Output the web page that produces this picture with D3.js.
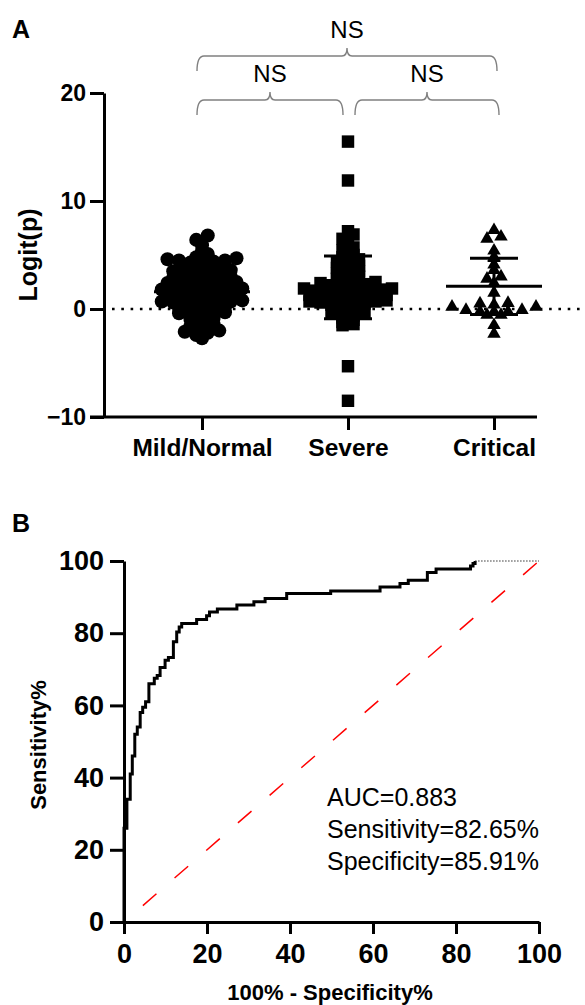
<!DOCTYPE html>
<meta charset="utf-8">
<style>
body {
  margin: 0;
  background: #fff;
}
text {
  font-family: 'Liberation Sans', Arial, sans-serif;
  fill: #000;
}
.axis path,
.axis line {
  stroke: #000;
  stroke-width: 3px;
  fill: none;
}
.axis text {
  font-weight: 700;
}
.title {
  font-weight: 700;
}
.bracket {
  fill: none;
  stroke: #808080;
  stroke-width: 1.4px;
}
</style>
<svg width="585" height="1005"></svg>
<script src="https://d3js.org/d3.v7.min.js"></script>
<script>
// ---- panel A data ----
var categories = ["Mild/Normal", "Severe", "Critical"];
var mildValues = [6.8, 6.4, 5.9, 5.4, 5.1, 4.8, 4.7, 4.6, 4.5, 4.5, 4.4, 4.3, 4.2, 4.0, 3.9, 3.8, 3.7,
  3.6, 3.5, 3.4, 3.3, 3.2, 3.1, 3.0, 2.9, 2.8, 2.7, 2.7, 2.6, 2.5, 2.4, 2.3, 2.2, 2.1, 2.0, 2.0, 1.9,
  1.8, 1.8, 1.7, 1.6, 1.5, 1.5, 1.4, 1.3, 1.2, 1.2, 1.1, 1.0, 1.0, 0.9, 0.8, 0.7, 0.7, 0.6, 0.5, 0.4,
  0.3, 0.3, 0.2, 0.1, 0.0, -0.1, -0.2, -0.3, -0.4, -0.5, -0.6, -0.7, -0.9, -1.0, -1.2, -1.4, -1.6,
  -1.8, -2.0, -2.1, -2.2, -2.4, -2.7];
var severeValues = [15.5, 11.9, 7.2, 6.9, 6.5, 6.1, 5.7, 5.4, 5.0, 4.8, 4.6, 4.4, 4.2, 4.0, 3.8, 3.7,
  3.5, 3.3, 3.1, 3.0, 2.8, 2.7, 2.5, 2.4, 2.3, 2.2, 2.1, 2.0, 1.9, 1.9, 1.8, 1.7, 1.7, 1.6, 1.5, 1.5,
  1.4, 1.3, 1.3, 1.2, 1.1, 1.1, 1.0, 0.9, 0.9, 0.8, 0.7, 0.7, 0.6, 0.5, 0.4, 0.4, 0.3, 0.2, 0.1, -0.1,
  -0.3, -0.4, -0.6, -0.8, -1.0, -1.2, -1.4, -1.5, -5.3, -8.5];
var criticalValues = [7.3, 6.7, 6.5, 5.4, 4.8, 4.7, 4.1, 3.6, 3.0, 2.8, 2.4, 1.5, 0.55, 0.5, 0.4, 0.2,
  0.2, -0.1, -0.1, -0.25, -0.25, -0.25, -0.55, -0.55, -1.5, -2.3];
var groupMeans = [1.6, 2.0, 2.1];
var groupSDs = [2.0, 2.9, 2.6];
var logitTicks = [-10, 0, 10, 20];
var comparisons = [[0, 2], [0, 1], [1, 2]];
var comparisonLabels = ["NS", "NS", "NS"];

// ---- panel B data ----
var rocFpr = [0, 0, 0.7, 1.5, 2.0, 2.6, 3.2, 3.9, 4.5, 5.2, 6.0, 7.3, 8.0, 8.7, 9.9, 10.7, 11.9, 12.7,
  13.3, 13.9, 17.5, 19.9, 20.6, 22.5, 27.2, 31.3, 34.0, 39.2, 49.8, 61.7, 66.5, 68.5, 73.1, 75.2, 83.5,
  84.1, 84.6];
var rocSens = [0, 26, 34, 41, 46, 52, 54, 58, 59.5, 61, 66, 67.5, 68.3, 70.5, 72.5, 73.3, 77.6, 80.3,
  81.7, 82.7, 83.8, 84.8, 85.9, 86.7, 87.8, 88.7, 89.6, 91.0, 91.7, 92.8, 93.8, 94.7, 96.8, 97.8, 98.6,
  99.3, 100];
var rocTicks = [0, 20, 40, 60, 80, 100];
var rocStats = ["AUC=0.883", "Sensitivity=82.65%", "Specificity=85.91%"];

var svg = d3.select("svg");

// =========== Panel A ===========
var yA = d3.scaleLinear().domain([-10, 20]).range([417, 93]);
var xA = d3.scalePoint().domain(categories).range([202, 494]);

svg.append("text").attr("class", "title").attr("x", 12).attr("y", 38)
  .style("font-size", "25px").text("A");

// zero reference line
svg.append("line")
  .attr("x1", 112).attr("x2", 580)
  .attr("y1", yA(0)).attr("y2", yA(0))
  .attr("stroke", "#000").attr("stroke-width", 2.6)
  .attr("stroke-dasharray", "2.6 6.7");

// scatter layout like prism: points binned into rows, each row spread around the centre
function spread(values, rowH, spacing) {
  var pts = values.map(function(v) { return {v: v, y: yA(v), dx: 0}; });
  var bins = d3.group(pts, function(p) { return Math.floor(p.y / rowH); });
  bins.forEach(function(row) {
    row.sort(function(a, b) { return a.v - b.v; });
    var n = row.length;
    var slots = d3.range(n).map(function(j) { return (j - (n - 1) / 2) * spacing; })
      .sort(function(a, b) { return Math.abs(a) - Math.abs(b) || a - b; });
    row.forEach(function(p, j) { p.dx = slots[j]; });
  });
  return pts;
}

var groups = [
  {values: mildValues, symbol: d3.symbolCircle, size: 155, rowH: 6, spacing: 11.5},
  {values: severeValues, symbol: d3.symbolSquare, size: 155, rowH: 6, spacing: 11},
  {values: criticalValues, symbol: d3.symbolTriangle, size: 78, rowH: 6, spacing: 14}
];

groups.forEach(function(gr, i) {
  var cx = xA(categories[i]);
  svg.append("g").selectAll("path")
    .data(spread(gr.values, gr.rowH, gr.spacing))
    .join("path")
    .attr("d", d3.symbol().type(gr.symbol).size(gr.size))
    .attr("transform", function(d) { return "translate(" + (cx + d.dx) + "," + d.y + ")"; })
    .attr("fill", "#000");

  // mean and SD
  var m = groupMeans[i], s = groupSDs[i];
  var g = svg.append("g").attr("stroke", "#000").attr("stroke-width", 3);
  g.append("line").attr("x1", cx - 48).attr("x2", cx + 48).attr("y1", yA(m)).attr("y2", yA(m));
  g.append("line").attr("x1", cx - 24).attr("x2", cx + 24).attr("y1", yA(m + s)).attr("y2", yA(m + s));
  g.append("line").attr("x1", cx - 24).attr("x2", cx + 24).attr("y1", yA(m - s)).attr("y2", yA(m - s));
  g.append("line").attr("x1", cx).attr("x2", cx).attr("y1", yA(m + s)).attr("y2", yA(m - s));
});

// axes
svg.append("g")
  .attr("class", "axis")
  .attr("transform", "translate(104,0)")
  .call(d3.axisLeft(yA).tickValues(logitTicks).tickSize(14).tickSizeOuter(0).tickPadding(4))
  .selectAll("text").style("font-size", "23px");

svg.append("line")
  .attr("x1", 90).attr("x2", 537).attr("y1", 417).attr("y2", 417)
  .attr("stroke", "#000").attr("stroke-width", 3);

var xAxisA = svg.append("g")
  .attr("class", "axis")
  .attr("transform", "translate(0,417)")
  .call(d3.axisBottom(xA).tickSize(13).tickSizeOuter(0).tickPadding(9));
xAxisA.select(".domain").remove();
xAxisA.selectAll("text").style("font-size", "24.5px");

svg.append("text").attr("class", "title")
  .attr("transform", "translate(37,255) rotate(-90)")
  .attr("text-anchor", "middle")
  .style("font-size", "25px")
  .text("Logit(p)");

// significance brackets
var bracketRows = [56, 100];
comparisons.forEach(function(c, i) {
  var y = i === 0 ? bracketRows[0] : bracketRows[1];
  var x1 = xA(categories[c[0]]) + (c[0] === 1 ? 7 : -5);
  var x2 = xA(categories[c[1]]) + (c[1] === 1 ? -5 : 5);
  if (i === 0) x2 = xA(categories[c[1]]) + 3;
  var mid = (x1 + x2) / 2;
  var path = d3.path();
  path.moveTo(x1, y + 15);
  path.quadraticCurveTo(x1, y, x1 + 7, y);
  path.lineTo(mid - 5, y);
  path.quadraticCurveTo(mid, y, mid, y - 8);
  path.quadraticCurveTo(mid, y, mid + 5, y);
  path.lineTo(x2 - 7, y);
  path.quadraticCurveTo(x2, y, x2, y + 15);
  svg.append("path").attr("class", "bracket").attr("d", path.toString());
  svg.append("text")
    .attr("x", mid).attr("y", y - 18)
    .attr("text-anchor", "middle")
    .style("font-size", "24px")
    .text(comparisonLabels[i]);
});

// =========== Panel B ===========
var xB = d3.scaleLinear().domain([0, 100]).range([124, 539]);
var yB = d3.scaleLinear().domain([0, 100]).range([922, 561]);

svg.append("text").attr("class", "title").attr("x", 12).attr("y", 532)
  .style("font-size", "25px").text("B");

// reference diagonal
svg.append("line")
  .attr("x1", xB(0)).attr("y1", yB(0))
  .attr("x2", xB(100)).attr("y2", yB(100))
  .attr("stroke", "#ff0000").attr("stroke-width", 1.5)
  .attr("stroke-dasharray", "18 24").attr("stroke-dashoffset", 17);

var roc = d3.zip(rocFpr, rocSens);
svg.append("path")
  .datum(roc)
  .attr("fill", "none")
  .attr("stroke", "#000")
  .attr("stroke-width", 3)
  .attr("d", d3.line().x(function(d) { return xB(d[0]); }).y(function(d) { return yB(d[1]); })
    .curve(d3.curveStepAfter));

// tail of the curve along the top
svg.append("line")
  .attr("x1", xB(rocFpr[rocFpr.length - 1])).attr("x2", xB(100))
  .attr("y1", yB(100)).attr("y2", yB(100))
  .attr("stroke", "#333").attr("stroke-width", 1.2)
  .attr("stroke-dasharray", "1.5 1.5");

svg.append("g")
  .attr("class", "axis")
  .attr("transform", "translate(124,0)")
  .call(d3.axisLeft(yB).tickValues(rocTicks).tickSize(14).tickSizeOuter(0).tickPadding(6))
  .selectAll("text").style("font-size", "27px");

svg.append("g")
  .attr("class", "axis")
  .attr("transform", "translate(0,922)")
  .call(d3.axisBottom(xB).tickValues(rocTicks).tickSize(12).tickSizeOuter(0).tickPadding(10))
  .selectAll("text").style("font-size", "27px");

svg.append("text").attr("class", "title")
  .attr("transform", "translate(46,745) rotate(-90)")
  .attr("text-anchor", "middle")
  .style("font-size", "22px")
  .text("Sensitivity%");

svg.append("text").attr("class", "title")
  .attr("x", 330).attr("y", 1000)
  .attr("text-anchor", "middle")
  .style("font-size", "22px")
  .text("100% - Specificity%");

svg.append("g").selectAll("text")
  .data(rocStats)
  .join("text")
  .attr("x", 327)
  .attr("y", function(d, i) { return 806 + i * 32; })
  .style("font-size", "25px")
  .text(function(d) { return d; });
</script>
